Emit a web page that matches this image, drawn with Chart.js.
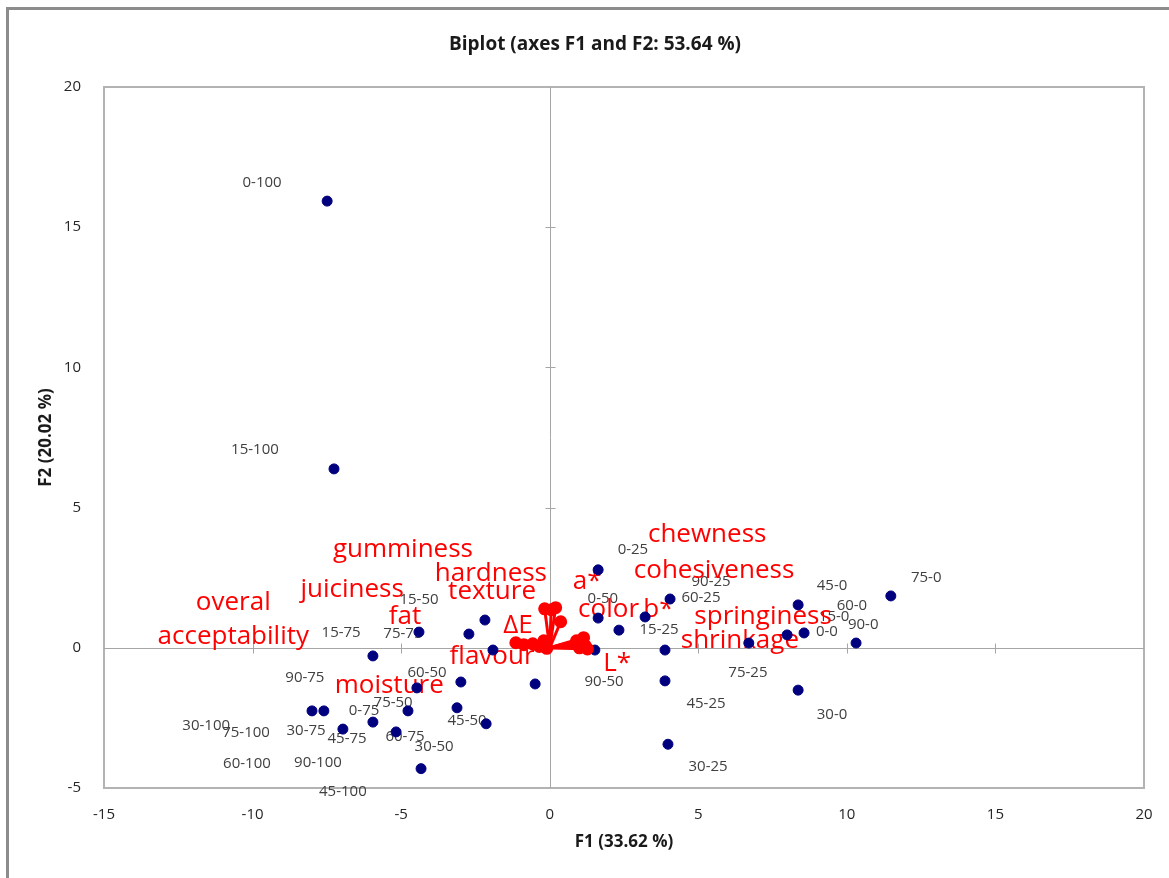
<!DOCTYPE html>
<html><head><meta charset="utf-8">
<script src="https://cdn.jsdelivr.net/npm/chart.js@4.4.0/dist/chart.umd.min.js"></script>
<style>
html,body{margin:0;padding:0;background:#fff;overflow:hidden;width:1169px;height:878px;}
#frame{position:absolute;left:6px;top:7px;width:1300px;height:1000px;border:3px solid #8c8c8c;box-sizing:border-box;}
#wrap{position:absolute;left:0;top:0;width:1169px;height:878px;}
</style></head><body>
<div id="frame"></div>
<div id="wrap"><canvas id="c" width="1169" height="878"></canvas></div>
<script>
// ---- Observations (F1, F2 scores) ----
const observations = ["0-100","15-100","15-50","15-75","75-75","90-75","60-50","0-75","75-50","30-100","75-100","30-75","45-75","60-75","45-50","30-50","60-100","90-100","45-100",
  "0-25","0-50","90-25","60-25","15-25","90-50","45-25","30-25","75-25","45-0","60-0","15-0","0-0","90-0","75-0","30-0"];
const obsF1 = [-7.49,-7.26,-4.40,-5.95,-2.72,-8.00,-4.47,-5.95,-4.77,-2.18,-1.91,-7.60,-6.96,-5.17,-2.14,-3.12,-0.49,-4.33,-2.99,
  1.63,1.63,3.21,4.05,2.33,1.52,3.88,3.98,6.70,8.36,8.56,7.99,3.88,10.31,11.48,8.36];
const obsF2 = [15.93,6.38,0.56,-0.29,0.49,-2.25,-1.43,-2.65,-2.25,0.99,-0.08,-2.25,-2.90,-3.00,-2.71,-2.14,-1.29,-4.31,-1.22,
  2.78,1.06,1.10,1.74,0.63,-0.08,-1.18,-3.44,0.17,1.53,0.53,0.46,-0.08,0.17,1.85,-1.51];
// label anchor positions (data units) as placed in the original
const obsLabelF1 = [-9.68,-9.92,-4.40,-7.02,-4.94,-8.24,-4.13,-6.25,-5.27,-11.56,-10.22,-8.20,-6.82,-4.87,-2.78,-3.89,-10.19,-7.80,-6.96,
  2.80,1.79,5.43,5.09,3.68,1.83,5.26,5.33,6.67,9.50,10.17,9.57,9.33,10.55,12.67,9.50];
const obsLabelF2 = [16.57,7.05,1.70,0.53,0.49,-1.08,-0.90,-2.25,-1.96,-2.79,-3.04,-2.97,-3.25,-3.18,-2.61,-3.54,-4.15,-4.11,-5.14,
  3.49,1.74,2.35,1.78,0.63,-1.21,-2.00,-4.25,-0.90,2.20,1.49,1.10,0.56,0.81,2.49,-2.37];

// ---- Variables (loadings) ----
const variables = ["chewness","cohesiveness","gumminess","hardness","juiciness","texture","a*","color","b*","springiness",
  "overal acceptability","fat","ΔE","shrinkage","flavour","L*","moisture"];
const varF1 = [1.14,1.04,0.20,-0.17,-1.14,0.05,0.37,1.10,0.90,1.20,-0.87,-0.57,-0.20,1.27,-0.10,1.00,-0.35];
const varF2 = [0.36,0.15,1.43,1.39,0.18,1.36,0.93,0.20,0.25,0.07,0.11,0.14,0.25,-0.04,-0.02,0.00,0.05];
const varLabelF1 = [5.30,5.53,-4.94,-1.98,-6.65,-1.94,1.26,1.98,3.66,7.18,-10.65,-4.87,-1.07,6.40,-1.94,2.27,-5.40];
const varLabelF2 = [4.02,2.77,3.49,2.63,2.06,1.99,2.35,1.35,1.35,1.13,1.00,1.10,0.78,0.24,-0.33,-0.58,-1.36];

const xTicks = [-15,-10,-5,0,5,10,15,20];
const yTicks = [-5,0,5,10,15,20];

const FONT = "'Open Sans', 'DejaVu Sans', sans-serif";

const pointsDataset = {
  label: "Observations",
  data: observations.map((n,i)=>({x:obsF1[i], y:obsF2[i]})),
  backgroundColor: "#00007f",
  borderColor: "#00007f",
  pointRadius: 5,
  pointHoverRadius: 5,
  showLine: false,
  order: 2
};
const vectorDatasets = variables.map((v,i)=>({
  label: v,
  data: [{x:0,y:0},{x:varF1[i],y:varF2[i]}],
  showLine: true,
  borderColor: "#ff0000",
  backgroundColor: "#ff0000",
  borderWidth: 3,
  pointRadius: [0,5],
  pointHoverRadius: [0,5],
  order: 1
}));

const decorPlugin = {
  id: "decor",
  beforeDatasetsDraw(chart) {
    const {ctx, chartArea: a, scales: {x, y}} = chart;
    ctx.save();
    ctx.strokeStyle = "#b3b3b3";
    ctx.lineWidth = 2;
    ctx.strokeRect(a.left, a.top, a.right - a.left, a.bottom - a.top);
    ctx.strokeStyle = "#a6a6a6";
    ctx.lineWidth = 1;
    const x0 = Math.round(x.getPixelForValue(0)) + 0.5;
    const y0 = Math.round(y.getPixelForValue(0)) + 0.5;
    ctx.beginPath();
    ctx.moveTo(x0, a.top); ctx.lineTo(x0, a.bottom);
    ctx.moveTo(a.left, y0); ctx.lineTo(a.right, y0);
    xTicks.forEach(t => { if (t !== 0 && t > x.min && t < x.max) { const px = Math.round(x.getPixelForValue(t)) + 0.5; ctx.moveTo(px, y0 - 5); ctx.lineTo(px, y0 + 5); } });
    yTicks.forEach(t => { if (t !== 0 && t > y.min && t < y.max) { const py = Math.round(y.getPixelForValue(t)) + 0.5; ctx.moveTo(x0 - 5, py); ctx.lineTo(x0 + 5, py); } });
    ctx.stroke();
    ctx.textAlign = "center";
    ctx.textBaseline = "middle";
    ctx.fillStyle = "#404040";
    ctx.font = "15px " + FONT;
    observations.forEach((n,i) => {
      ctx.fillText(n, x.getPixelForValue(obsLabelF1[i]), y.getPixelForValue(obsLabelF2[i]));
    });
    ctx.fillStyle = "#ff0000";
    ctx.font = "26px " + FONT;
    variables.forEach((n,i) => {
      const px = x.getPixelForValue(varLabelF1[i]);
      const py = y.getPixelForValue(varLabelF2[i]);
      if (n === "overal acceptability") {
        ctx.fillText("overal", px, py - 17);
        ctx.fillText("acceptability", px, py + 17);
      } else {
        ctx.fillText(n, px, py);
      }
    });
    ctx.restore();
  }
};

new Chart(document.getElementById("c"), {
  type: "scatter",
  data: { datasets: [pointsDataset, ...vectorDatasets] },
  options: {
    responsive: false,
    animation: false,
    devicePixelRatio: 1,
    layout: { padding: { left: 46, right: 25, top: 0, bottom: 0 } },
    plugins: {
      legend: { display: false },
      tooltip: { enabled: false },
      title: {
        display: true,
        text: "Biplot (axes F1 and F2: 53.64 %)",
        color: "#1a1a1a",
        font: { family: FONT, size: 19, weight: "bold", lineHeight: 1.2 },
        padding: { top: 33, bottom: 31.2 }
      }
    },
    scales: {
      x: {
        type: "linear", min: -15, max: 20,
        afterBuildTicks: s => { s.ticks = xTicks.map(v => ({value: v})); },
        afterFit: s => { s.height = 90; },
        grid: { display: false }, border: { display: false },
        ticks: { padding: 10, color: "#262626", font: { family: FONT, size: 15 } },
        title: { display: true, text: "F1 (33.62 %)", color: "#1a1a1a", font: { family: FONT, size: 17, weight: "bold", lineHeight: 1.2 }, padding: { top: 0, bottom: 26 } }
      },
      y: {
        type: "linear", min: -5, max: 20,
        afterBuildTicks: s => { s.ticks = yTicks.map(v => ({value: v})); },
        afterFit: s => { s.width = 58; },
        grid: { display: false }, border: { display: false },
        ticks: { padding: 15, color: "#262626", font: { family: FONT, size: 15 } },
        title: { display: true, text: "F2 (20.02 %)", color: "#1a1a1a", font: { family: FONT, size: 17, weight: "bold", lineHeight: 1.2 }, padding: { top: -10.2, bottom: 0 } }
      }
    }
  },
  plugins: [decorPlugin]
});
</script>
</body></html>
